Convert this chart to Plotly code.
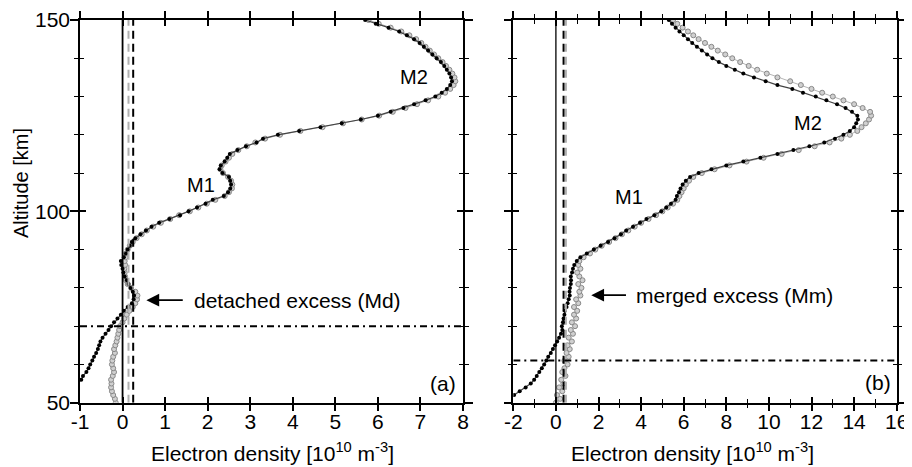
import plotly.graph_objects as go

# ---------------- data ----------------
# Panel (a)
alt_a_black = list(range(56, 151))
ne_a_black = [-0.97, -0.93, -0.85, -0.80, -0.76, -0.71, -0.67, -0.62, -0.58, -0.55,
              -0.52, -0.47, -0.40, -0.33, -0.27, -0.20, -0.12, -0.04, 0.03, 0.12,
              0.22, 0.26, 0.27, 0.24, 0.19, 0.14, 0.10, 0.05, 0.02, 0.00,
              -0.03, -0.04, 0.03, 0.08, 0.12, 0.17, 0.22, 0.30, 0.42, 0.55,
              0.68, 0.86, 1.10, 1.35, 1.55, 1.75, 1.95, 2.12, 2.38, 2.48,
              2.53, 2.55, 2.53, 2.50, 2.35, 2.28, 2.31, 2.40, 2.46, 2.52,
              2.70, 2.90, 3.15, 3.30, 3.65, 4.15, 4.65, 5.15, 5.60, 6.00,
              6.30, 6.60, 6.85, 7.12, 7.35, 7.50, 7.62, 7.70, 7.74, 7.72,
              7.68, 7.62, 7.56, 7.48, 7.38, 7.28, 7.18, 7.08, 6.98, 6.85,
              6.68, 6.50, 6.25, 5.95, 5.70]

alt_a_grey = list(range(50, 151))
ne_a_grey = [-0.16, -0.18, -0.22, -0.25, -0.27, -0.26, -0.27, -0.23, -0.20, -0.22,
             -0.25, -0.24, -0.22, -0.18, -0.20, -0.17, -0.14, -0.12, -0.10, -0.08,
             -0.06, 0.00, 0.04, 0.10, 0.16, 0.24, 0.30, 0.34, 0.35, 0.30,
             0.20, 0.12, 0.08, 0.06, 0.05, 0.04, 0.06, 0.05, 0.07, 0.08,
             0.12, 0.17, 0.24, 0.33, 0.45, 0.57, 0.72, 0.90, 1.12, 1.33,
             1.58, 1.78, 1.98, 2.18, 2.40, 2.50, 2.57, 2.58, 2.55, 2.48,
             2.36, 2.30, 2.33, 2.42, 2.50, 2.58, 2.72, 2.92, 3.12, 3.35,
             3.70, 4.18, 4.70, 5.18, 5.62, 6.03, 6.35, 6.65, 6.92, 7.18,
             7.42, 7.58, 7.70, 7.78, 7.82, 7.80, 7.75, 7.68, 7.60, 7.52,
             7.42, 7.32, 7.22, 7.12, 7.02, 6.90, 6.74, 6.55, 6.30, 6.02,
             5.78]

# Panel (b)
alt_b_black = list(range(52, 151))
ne_b_black = [-1.96, -1.70, -1.42, -1.18, -1.02, -0.90, -0.78, -0.66, -0.55, -0.45,
              -0.36, -0.24, -0.14, -0.04, 0.06, 0.15, 0.24, 0.30, 0.28, 0.33,
              0.36, 0.40, 0.42, 0.50, 0.55, 0.60, 0.65, 0.64, 0.66, 0.70,
              0.71, 0.70, 0.76, 0.80, 0.86, 0.98, 1.15, 1.45, 1.78, 2.10,
              2.45, 2.75, 3.05, 3.30, 3.62, 3.95, 4.25, 4.62, 4.95, 5.18,
              5.40, 5.62, 5.68, 5.78, 5.85, 5.95, 6.10, 6.30, 6.70, 7.30,
              8.00, 8.80, 9.60, 10.40, 11.15, 11.90, 12.60, 13.10, 13.50, 13.80,
              14.00, 14.10, 14.18, 14.15, 13.90, 13.60, 13.20, 12.70, 12.20, 11.60,
              11.10, 10.40, 9.85, 9.30, 8.80, 8.40, 8.00, 7.65, 7.35, 7.10,
              6.85, 6.62, 6.40, 6.20, 6.00, 5.80, 5.62, 5.45, 5.30]

alt_b_grey = list(range(50, 151))
ne_b_grey = [0.00, 0.20, 0.05, 0.30, 0.15, 0.35, 0.25, 0.45, 0.30, 0.40,
             0.55, 0.40, 0.60, 0.50, 0.65, 0.55, 0.75, 0.60, 0.80, 0.70,
             0.90, 0.75, 0.95, 0.85, 1.00, 0.85, 1.05, 0.95, 1.15, 1.10,
             1.20, 1.05, 1.25, 1.10, 1.00, 1.15, 1.05, 1.10, 1.30, 1.60,
             1.85, 2.15, 2.50, 2.80, 3.10, 3.40, 3.70, 4.00, 4.35, 4.70,
             5.00, 5.25, 5.50, 5.70, 5.80, 5.90, 6.00, 6.10, 6.25, 6.45,
             6.85, 7.45, 8.15, 8.95, 9.75, 10.60, 11.40, 12.15, 12.85, 13.40,
             13.80, 14.15, 14.35, 14.55, 14.70, 14.80, 14.75, 14.40, 14.00, 13.50,
             13.00, 12.50, 12.00, 11.50, 11.00, 10.40, 9.90, 9.45, 9.05, 8.65,
             8.28, 7.95, 7.60, 7.30, 7.00, 6.70, 6.45, 6.20, 5.95, 5.70,
             5.50]

# reference lines
dash_black_a, dash_grey_a, cut_alt_a = 0.25, 0.14, 70
dash_black_b, dash_grey_b, cut_alt_b = 0.36, 0.47, 61

range_alt = [50, 150]
range_a = [-1, 8]
range_b = [-2, 16]
xt_a = [-1, 0, 1, 2, 3, 4, 5, 6, 7, 8]
xt_b = [-2, 0, 2, 4, 6, 8, 10, 12, 14, 16]
yt = [50, 100, 150]
xl_a = ["-1", "0", "1", "2", "3", "4", "5", "6", "7", "8"]
xl_b = ["-2", "0", "2", "4", "6", "8", "10", "12", "14", "16"]
yl = ["50", "100", "150"]

FONT = "Liberation Sans, Arial, sans-serif"
FS = 21

# the page body has an 8 px margin: the figure is 904x459 so that it fills 912x467
W, H, OFF = 904, 459, 8
def px(X):
    return (X - OFF) / W
def py(Y):
    return 1 - (Y - OFF) / H

fig = go.Figure()

def add_profile(x, y, xa, ya, grey):
    if grey:
        fig.add_trace(go.Scatter(x=x, y=y, xaxis=xa, yaxis=ya, mode="lines+markers",
                                 line=dict(color="#b5b5b5", width=1),
                                 marker=dict(symbol="circle", size=5, color="#d0d0d0",
                                             line=dict(color="#888888", width=1)),
                                 showlegend=False, hoverinfo="skip"))
    else:
        fig.add_trace(go.Scatter(x=x, y=y, xaxis=xa, yaxis=ya, mode="lines+markers",
                                 line=dict(color="#444444", width=1.2),
                                 marker=dict(symbol="circle", size=4, color="black"),
                                 showlegend=False, hoverinfo="skip"))

add_profile(ne_a_grey, alt_a_grey, "x", "y", True)
add_profile(ne_a_black, alt_a_black, "x", "y", False)
add_profile(ne_b_grey, alt_b_grey, "x2", "y2", True)
add_profile(ne_b_black, alt_b_black, "x2", "y2", False)

# empty traces so the overlay (tick) axes are drawn
fig.add_trace(go.Scatter(x=[None], y=[None], xaxis="x3", yaxis="y3", showlegend=False))
fig.add_trace(go.Scatter(x=[None], y=[None], xaxis="x4", yaxis="y4", showlegend=False))

dom_a = [px(80), px(463)]
dom_b = [px(513.3), px(896.7)]
dom_y = [py(402.7), py(20)]

axis_common = dict(showgrid=False, zeroline=False, showline=True, linecolor="black",
                   linewidth=1.5, tickcolor="black", tickwidth=1.5, mirror="allticks",
                   automargin=False,
                   tickfont=dict(family=FONT, size=FS, color="black"))
ov_common = dict(showticklabels=False, showline=False, showgrid=False, zeroline=False,
                 mirror="allticks", tickcolor="black", tickwidth=1.5, automargin=False)
minor_out = dict(ticks="outside", ticklen=4, tickcolor="black", tickwidth=1.2)
minor_in = dict(ticks="inside", ticklen=4, tickcolor="black", tickwidth=1.2)

fig.update_layout(
    width=W, height=H, autosize=False,
    margin=dict(l=0, r=0, t=0, b=0, autoexpand=False),
    paper_bgcolor="white", plot_bgcolor="white",
    xaxis=dict(domain=dom_a, range=range_a, anchor="y", tickvals=xt_a, ticktext=xl_a,
               ticks="outside", ticklen=7, ticklabelstandoff=-8, **axis_common),
    yaxis=dict(domain=dom_y, range=range_alt, anchor="x", tickvals=yt, ticktext=yl,
               ticks="outside", ticklen=8, ticklabelstandoff=-4,
               minor=dict(dtick=10, **minor_out), **axis_common),
    xaxis2=dict(domain=dom_b, range=range_b, anchor="y2", tickvals=xt_b, ticktext=xl_b,
                ticks="outside", ticklen=7, ticklabelstandoff=-8,
                minor=dict(dtick=1, **minor_out), **axis_common),
    yaxis2=dict(domain=dom_y, range=range_alt, anchor="x2", tickvals=yt,
                showticklabels=False, ticks="outside", ticklen=8,
                minor=dict(dtick=10, **minor_out), **axis_common),
    # overlay axes giving the inward half of the crossing ticks
    xaxis3=dict(domain=dom_a, range=range_a, anchor="y3", overlaying="x", tickvals=xt_a,
                ticks="inside", ticklen=6, **ov_common),
    yaxis3=dict(domain=dom_y, range=range_alt, anchor="x3", overlaying="y", tickvals=yt,
                ticks="inside", ticklen=6, minor=dict(dtick=10, **minor_in), **ov_common),
    xaxis4=dict(domain=dom_b, range=range_b, anchor="y4", overlaying="x2", tickvals=xt_b,
                ticks="inside", ticklen=6, minor=dict(dtick=1, **minor_in), **ov_common),
    yaxis4=dict(domain=dom_y, range=range_alt, anchor="x4", overlaying="y2", tickvals=yt,
                ticks="inside", ticklen=6, minor=dict(dtick=10, **minor_in), **ov_common),
)

shapes = []
def vline(xv, xref, yref, color, dash, width):
    shapes.append(dict(type="line", xref=xref, yref=yref, x0=xv, x1=xv,
                       y0=range_alt[0], y1=range_alt[1],
                       line=dict(color=color, dash=dash, width=width)))
def hline(yv, xref, yref, rng):
    shapes.append(dict(type="line", xref=xref, yref=yref, x0=rng[0], x1=rng[1],
                       y0=yv, y1=yv, line=dict(color="black", dash="7px,4px,2px,4px", width=2)))

vline(0, "x", "y", "black", "solid", 1.8)
vline(dash_grey_a, "x", "y", "#b0b0b0", "8px,5px", 2)
vline(dash_black_a, "x", "y", "black", "8px,5px", 2)
hline(cut_alt_a, "x", "y", range_a)
vline(0, "x2", "y2", "black", "solid", 1.3)
vline(dash_grey_b, "x2", "y2", "#b0b0b0", "8px,5px", 2)
vline(dash_black_b, "x2", "y2", "black", "8px,5px", 2)
hline(cut_alt_b, "x2", "y2", range_b)
fig.update_layout(shapes=shapes)

ann = []
def txt(x, y, s, xref, yref, xanchor="center", size=FS):
    ann.append(dict(x=x, y=y, xref=xref, yref=yref, text=s, showarrow=False,
                    xanchor=xanchor, yanchor="middle",
                    font=dict(family=FONT, size=size, color="black")))
def arrow(xh, xt, y, xref, yref):
    ann.append(dict(x=xh, y=y, ax=xt, ay=y, xref=xref, yref=yref, axref=xref, ayref=yref,
                    text="", showarrow=True, arrowhead=2, arrowsize=1.6, arrowwidth=1.6,
                    arrowcolor="black"))

txt(1.85, 106.9, "M1", "x", "y", size=20)
txt(6.86, 135.1, "M2", "x", "y", size=20)
txt(1.64, 76.8, "detached excess (Md)", "x", "y", "left")
arrow(0.56, 1.45, 76.8, "x", "y")
txt(7.52, 55.1, "(a)", "x", "y")
txt(3.45, 103.7, "M1", "x2", "y2", size=20)
txt(11.82, 123.1, "M2", "x2", "y2", size=20)
txt(3.68, 78.1, "merged excess (Mm)", "x2", "y2", "left")
arrow(1.66, 3.36, 78.1, "x2", "y2")
txt(15.12, 55.4, "(b)", "x2", "y2")

xtitle = "Electron density [10<sup>10</sup> m<sup>-3</sup>]"
for xc in (272.5, 692.5):
    ann.append(dict(x=px(xc), y=py(452), xref="paper", yref="paper", text=xtitle,
                    showarrow=False, xanchor="center", yanchor="middle",
                    font=dict(family=FONT, size=FS, color="black")))
ann.append(dict(x=px(21), y=py(183), xref="paper", yref="paper", text="Altitude [km]",
                showarrow=False, textangle=-90, xanchor="center", yanchor="middle",
                font=dict(family=FONT, size=20, color="black")))
fig.update_layout(annotations=ann)

fig.write_html("out.html")
